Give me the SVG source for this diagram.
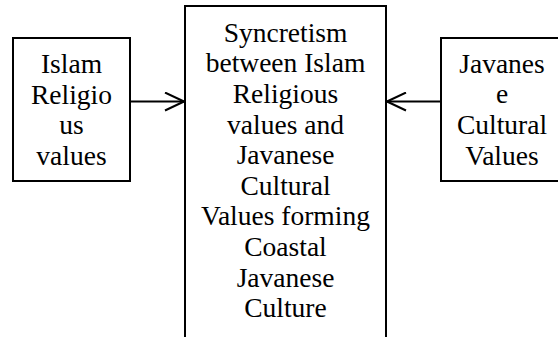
<svg xmlns="http://www.w3.org/2000/svg" width="558" height="337" viewBox="0 0 558 337">
<defs>
<style>
.box{fill:#fff;stroke:#000;stroke-width:2}
.t{font-family:"Liberation Serif","Times New Roman",serif;font-size:27.5px;fill:#000;text-anchor:middle}
.c{fill:none;stroke:#000;stroke-width:2}
</style>
<marker id="ah" markerWidth="22" markerHeight="20" refX="20" refY="10" orient="auto" markerUnits="userSpaceOnUse">
<path d="M1,1 L20,10 L1,19" fill="none" stroke="#000" stroke-width="2"/>
</marker>
</defs>
<rect width="558" height="337" fill="#fff"/>
<g id="islam">
<rect class="box" x="13" y="38" width="117" height="143"/>
<text class="t" x="71.5" y="72.5">Islam</text>
<text class="t" x="71.5" y="103.5">Religio</text>
<text class="t" x="71.5" y="134">us</text>
<text class="t" x="71.5" y="165">values</text>
</g>
<g id="syncretism">
<rect class="box" x="185" y="6" width="201" height="340"/>
<text class="t" x="285.5" y="41.5">Syncretism</text>
<text class="t" x="285.5" y="72.2">between Islam</text>
<text class="t" x="285.5" y="102.8">Religious</text>
<text class="t" x="285.5" y="133.5">values and</text>
<text class="t" x="285.5" y="164.1">Javanese</text>
<text class="t" x="285.5" y="194.8">Cultural</text>
<text class="t" x="285.5" y="225.4">Values forming</text>
<text class="t" x="285.5" y="256.1">Coastal</text>
<text class="t" x="285.5" y="286.7">Javanese</text>
<text class="t" x="285.5" y="317.3">Culture</text>
</g>
<g id="javanese">
<rect class="box" x="441" y="38" width="122" height="143"/>
<text class="t" x="502" y="72.5">Javanes</text>
<text class="t" x="502" y="103">e</text>
<text class="t" x="502" y="134">Cultural</text>
<text class="t" x="502" y="165">Values</text>
</g>
<g id="connectors">
<line class="c" x1="130" y1="101.5" x2="184" y2="101.5" marker-end="url(#ah)"/>
<line class="c" x1="441" y1="101.5" x2="387" y2="101.5" marker-end="url(#ah)"/>
</g>
</svg>
